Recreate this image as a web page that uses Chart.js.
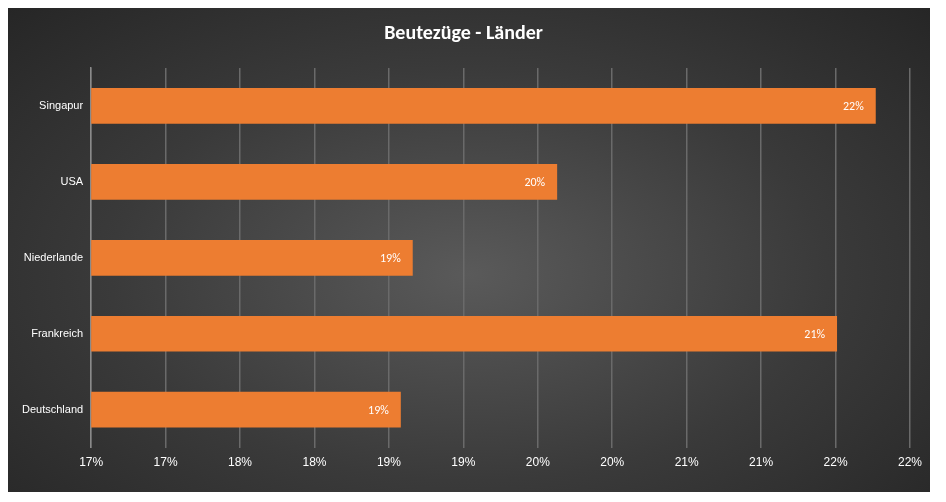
<!DOCTYPE html><html><head><meta charset="utf-8">
<script src="https://cdn.jsdelivr.net/npm/chart.js@4"></script>
<style>html,body{margin:0;background:#fff;width:946px;height:502px;overflow:hidden}
#wrap{position:absolute;left:8px;top:8px;width:922px;height:484px;background:radial-gradient(ellipse at 50% 55%,#5a5a5a 0%,#3a3a3a 55%,#262626 100%)}
</style></head><body><div id="wrap"><canvas id="c" width="922" height="484"></canvas></div>
<script>
const categories=['Singapur','USA','Niederlande','Frankreich','Deutschland'];
const values=[21.77,19.63,18.66,21.51,18.58];
const barLabels=['22%','20%','19%','21%','19%'];
const title='Beutezüge - Länder';
const labelPlugin={id:'lbl',afterDatasetsDraw(ch){const c=ch.ctx;const m=ch.getDatasetMeta(0);c.save();c.fillStyle='#fff';c.font='12px Calibri, Carlito, "Liberation Sans", sans-serif';c.textAlign='right';c.textBaseline='middle';m.data.forEach((b,i)=>c.fillText(barLabels[i],b.x-12,b.y+1));c.restore();}};
new Chart(document.getElementById('c'),{type:'bar',data:{labels:categories,datasets:[{data:values,borderWidth:0,categoryPercentage:0.47,barPercentage:1,
backgroundColor(ctx){const b=ctx.element;const y=b&&b.y?b.y:0;if(!y)return '#ed7d31';const g=ctx.chart.ctx.createLinearGradient(0,y-18,0,y+18);g.addColorStop(0,'#f4a06b');g.addColorStop(0.5,'#ed7d31');g.addColorStop(1,'#e06a20');return g;}}]},
options:{indexAxis:'y',responsive:false,animation:false,devicePixelRatio:1,
layout:{padding:{left:6,right:17,top:6,bottom:14}},
plugins:{legend:{display:false},tooltip:{enabled:false},title:{display:true,text:title,color:'#fff',font:{size:20,weight:'bold',family:'Calibri, Carlito, "Open Sans", sans-serif'},padding:{top:8,bottom:22}}},
scales:{x:{min:16.5,max:22,ticks:{stepSize:0.5,color:'#fff',font:{size:12},padding:8,callback:v=>Math.round(v)+'%'},grid:{color:'#6a6a6a',lineWidth:1.5,drawTicks:false},border:{display:false}},
y:{ticks:{color:'#fff',font:{size:11},padding:8},grid:{display:false,drawTicks:false},border:{color:'#8a8a8a',width:1.5}}}},plugins:[labelPlugin]});
</script></body></html>
